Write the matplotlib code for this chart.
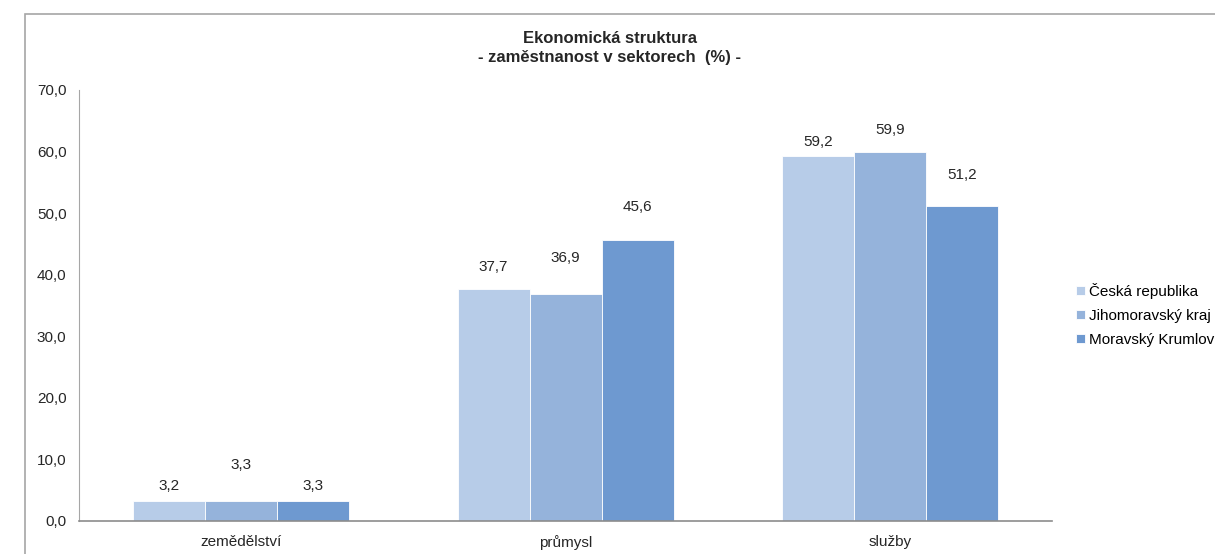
import numpy as np
import matplotlib
matplotlib.use("Agg")
import matplotlib.pyplot as plt
from matplotlib.patches import Rectangle

plt.rcParams['font.family'] = ['Liberation Sans', 'DejaVu Sans']

categories = ["zemědělství", "průmysl", "služby"]
series = ["Česká republika", "Jihomoravský kraj", "Moravský Krumlov"]
cr = [3.2, 37.7, 59.2]
jmk = [3.3, 36.9, 59.9]
mk = [3.3, 45.6, 51.2]
colors = ["#b7cce8", "#95b3db", "#6e99d0"]
# label lift above bar top, pixels (Excel shifts some to avoid overlap)
lifts = [[15, 22, 14], [36, 36, 22], [15, 33, 31]]

fig = plt.figure(figsize=(12.15, 5.54), dpi=100)
ax = fig.add_axes([0.065, 0.0596, 0.801, 0.778])

x = np.arange(len(categories))
w = 0.222
for i, (vals, name) in enumerate(zip([cr, jmk, mk], series)):
    pos = x + (i - 1) * w
    ax.bar(pos, vals, width=w, color=colors[i], edgecolor="white", linewidth=0.6, label=name)
    for j, v in enumerate(vals):
        ax.annotate(f"{v:.1f}".replace(".", ","), (pos[j], v), xytext=(0, lifts[i][j]),
                    textcoords="offset pixels", ha="center", va="center",
                    fontsize=11, color="#262626")

ax.set_xlim(-0.5, 2.5)
ax.set_ylim(0, 70)
ax.set_yticks(np.arange(0, 71, 10))
ax.set_yticklabels([f"{t:.1f}".replace(".", ",") for t in np.arange(0, 71, 10)], fontsize=11, color="#262626")
ax.set_xticks(x)
ax.set_xticklabels(categories, fontsize=11, color="#262626")
ax.tick_params(length=0)
ax.tick_params(axis="x", pad=10)
ax.tick_params(axis="y", pad=9)
for s in ["top", "right"]:
    ax.spines[s].set_visible(False)
ax.spines["left"].set_color("#a6a6a6")
ax.spines["bottom"].set_color("#8c8c8c")
ax.spines["bottom"].set_linewidth(1.2)

fig.text(0.502, 0.913, "Ekonomická struktura\n- zaměstnanost v sektorech  (%) -",
         ha="center", va="center", fontsize=12, fontweight="bold", color="#262626",
         linespacing=1.35)

# legend runs past the right edge, as in the original export
ax.legend(loc="center left", bbox_to_anchor=(1.0, 0.478), frameon=False, fontsize=11,
          handlelength=0.6, handleheight=0.6, handletextpad=0.25, labelspacing=0.65,
          borderaxespad=1.15)

fig.patches.append(Rectangle((25 / 1215, -0.1), 1.2, 1.1 - 14 / 554, transform=fig.transFigure,
                             fill=False, edgecolor="#a6a6a6", linewidth=1.2))

fig.savefig("out.png", dpi=100)
